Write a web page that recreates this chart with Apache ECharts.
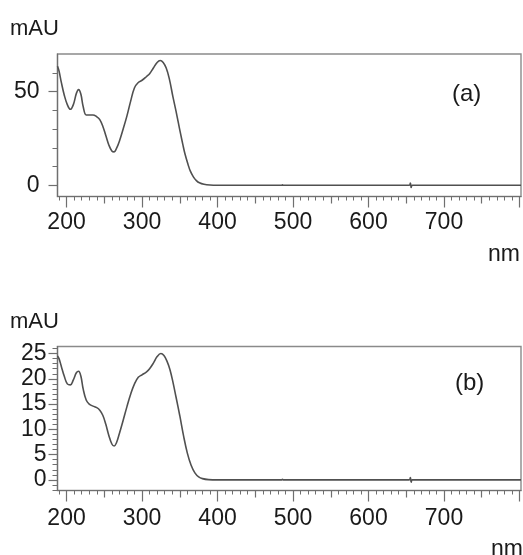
<!DOCTYPE html>
<html>
<head>
<meta charset="utf-8">
<script src="https://cdn.jsdelivr.net/npm/echarts@6/dist/echarts.min.js"></script>
<style>
html, body { margin: 0; padding: 0; background: #fff; }
#chart { width: 523px; height: 555px; }
</style>
</head>
<body>
<div id="chart"></div>
<script>
// UV-Vis absorbance spectra, two samples (a) and (b)
const wavelengthA = [188, 190, 193, 197, 201, 205, 209, 213, 216, 219, 222, 226, 230, 235, 240, 244, 248, 252, 256, 260, 263, 266, 270, 275, 280, 285, 290, 295, 300, 306, 310, 315, 320, 324, 328, 332, 336, 341, 345, 348, 351, 354, 357, 361, 364, 368, 372, 376, 382, 390, 400, 420, 485, 486, 487, 560, 654, 655.5, 656.5, 658, 700, 802];
const absorbanceA = [63.5, 61, 55, 48, 43, 40.5, 43, 49, 51, 48.5, 42, 37.5, 37.5, 37.5, 36.5, 35, 31.5, 26.5, 21.5, 18.3, 17.8, 19.5, 23.5, 30, 37, 45, 52, 54.8, 56, 58, 59.5, 62.5, 65.5, 66.5, 65.5, 62.5, 57, 47, 39.5, 33.5, 27.5, 21.8, 16.5, 11, 7.5, 4.5, 2.5, 1.3, 0.5, 0.1, 0, 0, 0, 0.3, 0, 0, 0, 1.2, -1.2, 0, 0, 0];

const wavelengthB = [188, 190, 193, 197, 201, 205, 209, 213, 216, 219, 222, 226, 230, 235, 240, 244, 248, 252, 256, 260, 263, 266, 270, 275, 280, 285, 290, 295, 300, 306, 310, 315, 320, 325, 329, 333, 337, 341, 345, 350, 355, 360, 365, 370, 375, 380, 388, 400, 420, 485, 486, 487, 560, 654, 655.5, 656.5, 658, 700, 802];
const absorbanceB = [24.5, 24, 22.5, 20.5, 19, 18.8, 19.8, 21.2, 21.5, 20.5, 18, 15.8, 15, 14.6, 14.3, 13.8, 12.8, 11, 8.8, 7.1, 6.7, 7.3, 9.2, 11.8, 14.5, 17, 19, 20.3, 20.8, 21.4, 22, 23.1, 24.4, 25, 24.6, 23.5, 21.8, 19.3, 16.4, 12.7, 8.7, 5.3, 2.9, 1.4, 0.6, 0.25, 0.05, 0, 0, 0, 0.12, 0, 0, 0, 0.45, -0.45, 0, 0, 0];

// axis ticks and labels
const xLabelTicks = [200, 300, 400, 500, 600, 700];
const xMajorTicks = [200, 300, 400, 500, 600, 700, 800];
const xMidTicks = [250, 350, 450, 550, 650, 750];
const yLabelsA = [0, 50];
const yMinorA = [10, 20, 30, 40, 60];
const yLabelsB = [0, 5, 10, 15, 20, 25];

const xMinorTicks = [];
for (let v = 190; v <= 800; v += 10) xMinorTicks.push(v);
const yMinorB = [];
for (let v = -2; v <= 26; v += 1) if (v % 5 !== 0) yMinorB.push(v);

const AXIS_COLOR = '#6f6f6f';
const TEXT_COLOR = '#1a1a1a';
const FONT = 'Liberation Sans, Arial, sans-serif';
const X_MIN = 188, X_MAX = 802;

function pairs(xs, ys) { return xs.map((x, i) => [x, ys[i]]); }

function xAxesFor(gridIndex, labelMargin) {
  const base = {
    type: 'value', gridIndex, min: X_MIN, max: X_MAX, position: 'bottom',
    splitLine: { show: false }
  };
  return [
    Object.assign({}, base, {
      axisLine: { show: true, onZero: false, lineStyle: { color: AXIS_COLOR, width: 1.2 } },
      axisTick: { show: true, length: 11, customValues: xMajorTicks, lineStyle: { color: AXIS_COLOR, width: 1.2 } },
      axisLabel: { show: true, customValues: xLabelTicks, margin: labelMargin, color: TEXT_COLOR, fontSize: 23, fontFamily: FONT }
    }),
    Object.assign({}, base, {
      axisLine: { show: false, onZero: false },
      axisTick: { show: true, length: 7, customValues: xMidTicks, lineStyle: { color: AXIS_COLOR, width: 1.2 } },
      axisLabel: { show: false }
    }),
    Object.assign({}, base, {
      axisLine: { show: false, onZero: false },
      axisTick: { show: true, length: 4, customValues: xMinorTicks, lineStyle: { color: AXIS_COLOR, width: 1 } },
      axisLabel: { show: false }
    })
  ];
}

function yAxesFor(gridIndex, min, max, labels, minor, margin) {
  const base = { type: 'value', gridIndex, min, max, position: 'left', splitLine: { show: false } };
  return [
    Object.assign({}, base, {
      axisLine: { show: true, onZero: false, lineStyle: { color: AXIS_COLOR, width: 1.2 } },
      axisTick: { show: true, length: 9, customValues: labels, lineStyle: { color: AXIS_COLOR, width: 1.2 } },
      axisLabel: { show: true, customValues: labels, margin, color: TEXT_COLOR, fontSize: 23, fontFamily: FONT }
    }),
    Object.assign({}, base, {
      axisLine: { show: false, onZero: false },
      axisTick: { show: true, length: 5, customValues: minor, lineStyle: { color: AXIS_COLOR, width: 1 } },
      axisLabel: { show: false }
    })
  ];
}

const gridBox = { show: true, borderColor: '#8a8a8a', borderWidth: 1.4, backgroundColor: 'transparent' };
const lineStyle = { color: '#505050', width: 1.6 };

const chart = echarts.init(document.getElementById('chart'), null, { renderer: 'canvas' });
chart.setOption({
  animation: false,
  backgroundColor: '#fff',
  grid: [
    Object.assign({ left: 57.5, top: 54, width: 463.5, height: 142.5 }, gridBox),
    Object.assign({ left: 57.5, top: 346.5, width: 463.5, height: 144 }, gridBox)
  ],
  xAxis: xAxesFor(0, 15).concat(xAxesFor(1, 17)),
  yAxis: yAxesFor(0, -6, 70, yLabelsA, yMinorA, 18).concat(yAxesFor(1, -2.1, 26.4, yLabelsB, yMinorB, 11)),
  series: [
    { type: 'line', xAxisIndex: 0, yAxisIndex: 0, data: pairs(wavelengthA, absorbanceA), showSymbol: false, smooth: 0.4, lineStyle },
    { type: 'line', xAxisIndex: 3, yAxisIndex: 2, data: pairs(wavelengthB, absorbanceB), showSymbol: false, smooth: 0.4, lineStyle }
  ],
  graphic: [
    { type: 'text', left: 10, top: 18, style: { text: 'mAU', fontSize: 22, fontFamily: FONT, fill: TEXT_COLOR } },
    { type: 'text', left: 10, top: 311, style: { text: 'mAU', fontSize: 22, fontFamily: FONT, fill: TEXT_COLOR } },
    { type: 'text', left: 452, top: 82, style: { text: '(a)', fontSize: 24, fontFamily: FONT, fill: TEXT_COLOR } },
    { type: 'text', left: 455, top: 371, style: { text: '(b)', fontSize: 24, fontFamily: FONT, fill: TEXT_COLOR } },
    { type: 'text', left: 488, top: 243, style: { text: 'nm', fontSize: 23, fontFamily: FONT, fill: TEXT_COLOR } },
    { type: 'text', left: 491, top: 538, style: { text: 'nm', fontSize: 23, fontFamily: FONT, fill: TEXT_COLOR } }
  ]
});
</script>
</body>
</html>
